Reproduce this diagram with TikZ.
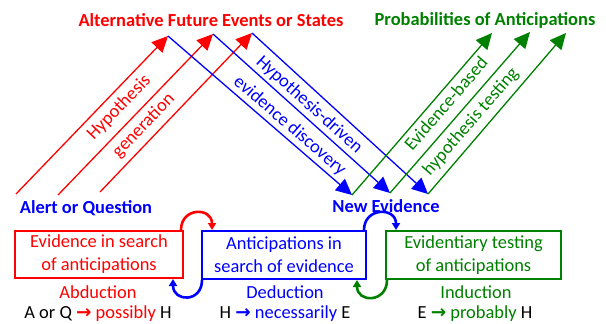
\documentclass[tikz,border=0pt]{standalone}
\usepackage{fontspec}
\setmainfont{Carlito}
\newfontfamily\arrowfont{DejaVu Sans}
\usetikzlibrary{arrows.meta}
\definecolor{abdred}{RGB}{255,0,0}
\definecolor{dedblue}{RGB}{0,0,255}
\definecolor{indgreen}{RGB}{0,128,0}
\tikzset{>/.tip={Triangle[length=16bp,width=15bp]},
  head/.style={font=\fontsize{18.5}{22}\selectfont\bfseries, inner sep=0pt},
  txt/.style={font=\fontsize{18.5}{22}\selectfont, inner sep=0pt},
  lbl/.style={font=\fontsize{18.5}{22}\selectfont, sloped, inner sep=1bp},
  stage/.style={draw, line width=2bp, align=center, inner sep=0pt,
    font=\fontsize{18.5}{23}\selectfont},
  swing/.style={line width=2.6bp, -{Triangle[length=7bp,width=8bp]}}}
\newcommand{\rarr}[1]{{\color{#1}\arrowfont\bfseries →}}

\begin{document}
\begin{tikzpicture}[x=1bp, y=-1bp]
\useasboundingbox (0,0) rectangle (606,323);
\node[head, abdred] (alt-future) at (211,20) {Alternative Future Events or States};
\node[head, indgreen] (prob-ant) at (485,20) {Probabilities of Anticipations};
\node[head, dedblue] (alert) at (86,208) {Alert or Question};
\node[head, dedblue] (new-ev) at (386,206) {New Evidence};

\coordinate (q1) at (16,194);
\coordinate (q2) at (58,195);
\coordinate (q3) at (100,192);
\coordinate (f1) at (168,36);
\coordinate (f2) at (213,34);
\coordinate (f3) at (252,33);
\coordinate (e1) at (352,195);
\coordinate (e2) at (390,193);
\coordinate (e3) at (428,194);
\coordinate (p1) at (492,33);
\coordinate (p2) at (530,32);
\coordinate (p3) at (566,33);

% hypothesis generation
\path[->, abdred, line width=1.3bp] (q1) edge node[lbl, below=5bp, pos=0.61] {Hypothesis} (f1);
\path[->, abdred, line width=1.3bp] (q2) edge node[lbl, below=4bp, pos=0.49] {generation} (f2);
\path[->, abdred, line width=1.3bp] (q3) edge (f3);

% evidence discovery
\path[->, dedblue, line width=1.3bp] (f1) edge node[lbl, above=2bp, pos=0.62] {evidence discovery} (e1);
\path[->, dedblue, line width=1.3bp] (f2) edge node[lbl, above=2bp, pos=0.50] {Hypothesis-driven} (e2);
\path[->, dedblue, line width=1.3bp] (f3) edge (e3);

% hypothesis testing
\path[->, indgreen, line width=1.3bp] (e1) edge node[lbl, below=3bp, pos=0.61] {Evidence-based} (p1);
\path[->, indgreen, line width=1.3bp] (e2) edge node[lbl, below=5bp, pos=0.50] {hypothesis testing} (p2);
\path[->, indgreen, line width=1.3bp] (e3) edge (p3);

% three stages
\node[stage, abdred, minimum width=168bp, minimum height=47bp] (abd-box) at (99,254.5)
  {Evidence in search\\of anticipations};
\node[stage, dedblue, minimum width=164bp, minimum height=48bp] (ded-box) at (284,255)
  {Anticipations in\\search of evidence};
\node[stage, indgreen, minimum width=175bp, minimum height=48bp] (ind-box) at (473.5,255)
  {Evidentiary testing\\of anticipations};

\node[txt, abdred] (abd) at (98,292) {Abduction};
\node[txt, dedblue] (ded) at (285,292) {Deduction};
\node[txt, indgreen] (ind) at (476,292) {Induction};
\node[txt] (abd-rule) at (98,314) {A or Q \rarr{abdred} {\color{abdred}possibly} H};
\node[txt] (ded-rule) at (285,314) {H \rarr{dedblue} {\color{dedblue}necessarily} E};
\node[txt] (ind-rule) at (475,314) {E \rarr{indgreen} {\color{indgreen}probably} H};

% cycle between stages
\draw[swing, abdred] ([xshift=-3bp]abd-box.north east) .. controls +(0,-23) and +(0,-23) .. ([xshift=11bp]ded-box.north west);
\draw[swing, dedblue] ([xshift=1bp]ded-box.south west) .. controls +(0,23) and +(0,23) .. ([xshift=-11bp]abd-box.south east);
\draw[swing, dedblue] ([xshift=-3bp]ded-box.north east) .. controls +(0,-23) and +(0,-23) .. ([xshift=11bp]ind-box.north west);
\draw[swing, indgreen] ([xshift=2bp]ind-box.south west) .. controls +(0,23) and +(0,23) .. ([xshift=-10bp]ded-box.south east);
\end{tikzpicture}
\end{document}
